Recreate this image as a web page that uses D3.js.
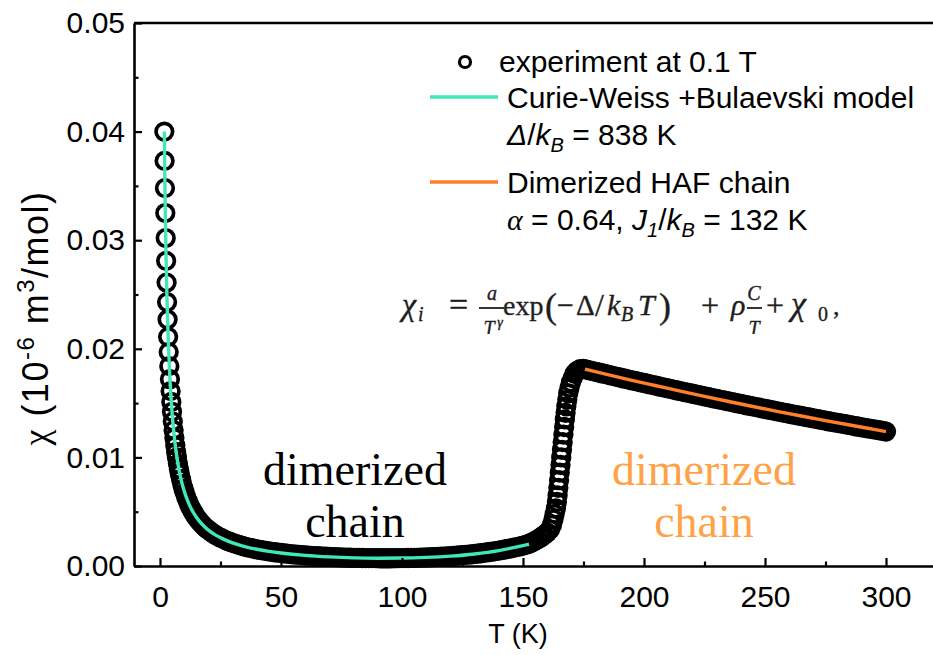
<!DOCTYPE html>
<html>
<head>
<meta charset="utf-8">
<script src="https://cdn.jsdelivr.net/npm/d3@7"></script>
<style>
  body { margin: 0; background: #fff; }
  svg { display: block; }
</style>
</head>
<body>
<svg id="chart" width="933" height="655"></svg>
<script>
// ---- Measured susceptibility, chi (10^-6 m^3/mol) versus T (K) ----
// Curie tail
const tempLow = [1.79, 1.91, 2.05, 2.20, 2.36, 2.54, 2.73, 2.93, 3.13, 3.36, 3.60, 3.85, 4.11, 4.39, 4.68, 4.97, 5.29, 5.63, 5.95, 6.32, 6.67];
const chiLow  = [0.0400, 0.0373, 0.0348, 0.0325, 0.0302, 0.0281, 0.0261, 0.0243, 0.0227, 0.0211, 0.0197, 0.0184, 0.0172, 0.0161, 0.0151, 0.0142, 0.0133, 0.0125, 0.0118, 0.0111, 0.0105];
// knee of the tail
const tempBend = [7.0, 7.4, 7.8, 8.2, 8.7, 9.2, 9.7, 10.2, 10.8, 11.4, 12.0, 12.7, 13.4, 14.1, 14.9, 15.7, 16.5, 17.4, 18.3, 19.2];
const chiBend  = [0.00999, 0.00943, 0.00893, 0.00848, 0.00798, 0.00753, 0.00712, 0.00676, 0.00637, 0.00602, 0.00570, 0.00537, 0.00507, 0.00481, 0.00453, 0.00429, 0.00406, 0.00384, 0.00363, 0.00345];
// low, flat region of the dimerized phase
const tempFlat = [20, 21.25, 22.5, 23.75, 25, 26.25, 27.5, 28.75, 30, 31.25,
  32.5, 33.75, 35, 36.25, 37.5, 38.75, 40, 41.25, 42.5, 43.75,
  45, 46.25, 47.5, 48.75, 50, 51.25, 52.5, 53.75, 55, 56.25,
  57.5, 58.75, 60, 61.25, 62.5, 63.75, 65, 66.25, 67.5, 68.75,
  70, 71.25, 72.5, 73.75, 75, 76.25, 77.5, 78.75, 80, 81.25,
  82.5, 83.75, 85, 86.25, 87.5, 88.75, 90, 91.25, 92.5, 93.75,
  95, 96.25, 97.5, 98.75, 100, 101.25, 102.5, 103.75, 105, 106.25,
  107.5, 108.75, 110, 111.25, 112.5, 113.75, 115, 116.25, 117.5, 118.75,
  120, 121.25, 122.5, 123.75, 125, 126.25, 127.5, 128.75, 130, 131.25,
  132.5, 133.75, 135, 136.25, 137.5, 138.75, 140, 141.25, 142.5, 143.75,
  145, 146.25, 147.5, 148.75, 150, 151.25];
const chiFlat = [0.00332, 0.00311, 0.00292, 0.002755, 0.002604, 0.002468, 0.002344, 0.002231, 0.002128, 0.002033,
  0.001945, 0.001864, 0.00179, 0.00172, 0.001655, 0.001595, 0.001539, 0.001486, 0.001437, 0.00139,
  0.001346, 0.001305, 0.001266, 0.001229, 0.001195, 0.001162, 0.001131, 0.001102, 0.001074, 0.001048,
  0.001023, 0.00100, 0.000978, 0.000957, 0.000936, 0.000917, 0.00090, 0.000883, 0.000867, 0.000852,
  0.000838, 0.000825, 0.000812, 0.00080, 0.00079, 0.000779, 0.00077, 0.000761, 0.000754, 0.000747,
  0.000741, 0.000735, 0.00073, 0.000726, 0.000722, 0.000719, 0.000717, 0.000715, 0.000714, 0.000714,
  0.000715, 0.000716, 0.000718, 0.000722, 0.000726, 0.00073, 0.000735, 0.000742, 0.000749, 0.000757,
  0.000765, 0.000775, 0.000786, 0.000797, 0.000809, 0.000823, 0.000837, 0.000853, 0.00087, 0.000887,
  0.000907, 0.000927, 0.000949, 0.000972, 0.000996, 0.001022, 0.00105, 0.001078, 0.00111, 0.001142,
  0.001175, 0.001211, 0.001249, 0.001288, 0.00133, 0.001374, 0.00142, 0.001468, 0.001518, 0.001572,
  0.001628, 0.001686, 0.001747, 0.001812, 0.00188, 0.00195];
// structural transition
const tempRise = [152.5, 153.75, 155, 156.25, 157.5, 158.75, 160, 161.2, 162.0, 162.6,
  163.1, 163.6, 164.0, 164.3, 164.6, 164.9, 165.2, 165.5, 165.8, 166.1,
  166.4, 166.7, 167.0, 167.3, 167.6, 167.9, 168.3, 168.7, 169.2, 169.8,
  170.5, 171.3, 172.2, 173.6];
const chiRise = [0.00205, 0.00218, 0.00232, 0.00248, 0.00265, 0.00285, 0.00308, 0.00338, 0.0038, 0.0043,
  0.0048, 0.0053, 0.0059, 0.0065, 0.0072, 0.0079, 0.0086, 0.0093, 0.0100, 0.0107,
  0.0114, 0.0121, 0.0128, 0.0135, 0.0141, 0.0147, 0.0153, 0.0159, 0.0164, 0.0169,
  0.0173, 0.0177, 0.01795, 0.01812];
// high-temperature chain regime
const tempHigh = [175, 176.25, 177.5, 178.75, 180, 181.25, 182.5, 183.75, 185, 186.25,
  187.5, 188.75, 190, 191.25, 192.5, 193.75, 195, 196.25, 197.5, 198.75,
  200, 201.25, 202.5, 203.75, 205, 206.25, 207.5, 208.75, 210, 211.25,
  212.5, 213.75, 215, 216.25, 217.5, 218.75, 220, 221.25, 222.5, 223.75,
  225, 226.25, 227.5, 228.75, 230, 231.25, 232.5, 233.75, 235, 236.25,
  237.5, 238.75, 240, 241.25, 242.5, 243.75, 245, 246.25, 247.5, 248.75,
  250, 251.25, 252.5, 253.75, 255, 256.25, 257.5, 258.75, 260, 261.25,
  262.5, 263.75, 265, 266.25, 267.5, 268.75, 270, 271.25, 272.5, 273.75,
  275, 276.25, 277.5, 278.75, 280, 281.25, 282.5, 283.75, 285, 286.25,
  287.5, 288.75, 290, 291.25, 292.5, 293.75, 295, 296.25, 297.5, 298.75, 300];
const chiHigh = [0.01815, 0.01808, 0.01802, 0.01795, 0.01788, 0.01782, 0.01775, 0.01769, 0.01762, 0.01755,
  0.01749, 0.01742, 0.01736, 0.01729, 0.01723, 0.01717, 0.01710, 0.01704, 0.01697, 0.01691,
  0.01685, 0.01678, 0.01672, 0.01666, 0.01660, 0.01653, 0.01647, 0.01641, 0.01635, 0.01629,
  0.01622, 0.01616, 0.01610, 0.01604, 0.01598, 0.01592, 0.01586, 0.01580, 0.01574, 0.01568,
  0.01562, 0.01556, 0.01550, 0.01544, 0.01538, 0.01532, 0.01527, 0.01521, 0.01515, 0.01509,
  0.01503, 0.01498, 0.01492, 0.01486, 0.01480, 0.01475, 0.01469, 0.01463, 0.01458, 0.01452,
  0.01447, 0.01441, 0.01435, 0.01430, 0.01424, 0.01419, 0.01413, 0.01408, 0.01402, 0.01397,
  0.01392, 0.01386, 0.01381, 0.01376, 0.01370, 0.01365, 0.01360, 0.01354, 0.01349, 0.01344,
  0.01339, 0.01333, 0.01328, 0.01323, 0.01318, 0.01313, 0.01308, 0.01303, 0.01298, 0.01292,
  0.01287, 0.01282, 0.01277, 0.01272, 0.01267, 0.01263, 0.01258, 0.01253, 0.01248, 0.01243, 0.01238];

// ---- Fit curves ----
// Curie-Weiss + Bulaevski model
const tempCW = [1.8, 2, 2.25, 2.5, 2.75, 3, 3.5, 4, 4.5, 5, 5.5, 6, 7, 8, 9, 10, 12, 14, 16, 18, 20, 23, 26, 30, 35, 40, 45, 50, 60, 70, 80, 90, 100, 110, 120, 130, 140, 150, 152.5];
const chiCW  = [0.0400, 0.0357, 0.0317, 0.0285, 0.0259, 0.0237, 0.0203, 0.0177, 0.0157, 0.0141, 0.0128, 0.0117, 0.0100, 0.0087, 0.0077, 0.0069, 0.0057, 0.00484, 0.0042, 0.0037, 0.0033, 0.00284, 0.00250, 0.00213, 0.00179, 0.00154, 0.00135, 0.00120, 0.00098, 0.00084, 0.00075, 0.00072, 0.00073, 0.00079, 0.00091, 0.00111, 0.00142, 0.00188, 0.00200];
// Dimerized Heisenberg antiferromagnetic chain
const tempHAF = [175.6, 185, 195, 205, 215, 225, 235, 245, 255, 265, 275, 285, 295, 300];
const chiHAF  = [0.01812, 0.01762, 0.01710, 0.01660, 0.01610, 0.01562, 0.01515, 0.01469, 0.01424, 0.01381, 0.01339, 0.01298, 0.01258, 0.01238];

// ---- Axis ticks ----
const xMajor = [0, 50, 100, 150, 200, 250, 300];
const xMinor = [25, 75, 125, 175, 225, 275];
const yMajor = [0, 0.01, 0.02, 0.03, 0.04, 0.05];
const yMinor = [0.005, 0.015, 0.025, 0.035, 0.045];

// ---- Colours ----
const black = "#000";
const cwColor = "#3FE8B6";
const hafColor = "#FF7F2A";
const labelOrange = "#FFA247";
const eqInk = "#1e1e1e";

const svg = d3.select("#chart");
const sans = "'Liberation Sans', Arial, sans-serif";
const serif = "'Liberation Serif', 'Times New Roman', serif";

const x = d3.scaleLinear().domain([-10.74, 320]).range([134, 934.4]);
const y = d3.scaleLinear().domain([0, 0.05]).range([566, 23]);

const zip = (ts, cs) => ts.map((t, i) => ({ t, c: cs[i] }));
const measured = [].concat(
  zip(tempLow, chiLow), zip(tempBend, chiBend), zip(tempFlat, chiFlat),
  zip(tempRise, chiRise), zip(tempHigh, chiHigh));

// frame top edge
svg.append("line")
  .attr("x1", x.range()[0]).attr("x2", 940)
  .attr("y1", y(0.05)).attr("y2", y(0.05))
  .attr("stroke", black).attr("stroke-width", 2.6);

// data markers
svg.append("g").selectAll("circle").data(measured).join("circle")
  .attr("cx", d => x(d.t)).attr("cy", d => y(d.c))
  .attr("r", 8.3)
  .attr("fill", "none")
  .attr("stroke", black).attr("stroke-width", 3.7);

// fit lines
const lineGen = d3.line().x(d => x(d.t)).y(d => y(d.c)).curve(d3.curveMonotoneX);
svg.append("path").datum(zip(tempCW, chiCW))
  .attr("d", lineGen).attr("fill", "none")
  .attr("stroke", cwColor).attr("stroke-width", 3.4);
svg.append("path").datum(zip(tempHAF, chiHAF))
  .attr("d", lineGen).attr("fill", "none")
  .attr("stroke", hafColor).attr("stroke-width", 3.4);

// axes
function styleAxis(g) {
  g.select(".domain").attr("stroke-width", 2.6);
  g.selectAll(".tick line").attr("stroke-width", 2.2);
  g.selectAll("text").attr("font-family", sans).attr("font-size", 30).attr("fill", black);
}
svg.append("g").attr("transform", `translate(0,${y(0)})`)
  .call(d3.axisBottom(x).tickValues(xMajor).tickSizeInner(-8).tickSizeOuter(0).tickPadding(20).tickFormat(d3.format("d")))
  .call(styleAxis);
svg.append("g").attr("transform", `translate(0,${y(0)})`)
  .call(d3.axisBottom(x).tickValues(xMinor).tickSizeInner(-4.5).tickSizeOuter(0).tickFormat(""))
  .call(g => g.select(".domain").remove())
  .call(g => g.selectAll(".tick line").attr("stroke-width", 2.2));
svg.append("g").attr("transform", `translate(${x.range()[0]},0)`)
  .call(d3.axisLeft(y).tickValues(yMajor).tickSizeInner(-8).tickSizeOuter(0).tickPadding(9).tickFormat(d3.format(".2f")))
  .call(styleAxis);
svg.append("g").attr("transform", `translate(${x.range()[0]},0)`)
  .call(d3.axisLeft(y).tickValues(yMinor).tickSizeInner(-4.5).tickSizeOuter(0).tickFormat(""))
  .call(g => g.select(".domain").remove())
  .call(g => g.selectAll(".tick line").attr("stroke-width", 2.2));

// axis titles
svg.append("text")
  .attr("x", 518).attr("y", 643)
  .attr("text-anchor", "middle")
  .attr("font-family", sans).attr("font-size", 27)
  .text("T (K)");

const yTitle = svg.append("text")
  .attr("transform", "translate(48,318) rotate(-90)")
  .attr("text-anchor", "middle")
  .attr("font-family", sans).attr("font-size", 36)
  .attr("letter-spacing", 1.5);
yTitle.append("tspan").attr("font-family", serif).text("χ");
yTitle.append("tspan").text(" (10");
yTitle.append("tspan").attr("dy", -14).attr("font-size", 24).text("-6");
yTitle.append("tspan").attr("dy", 14).text(" m");
yTitle.append("tspan").attr("dy", -14).attr("font-size", 24).text("3");
yTitle.append("tspan").attr("dy", 14).text("/mol)");

// legend
const lg = svg.append("g").attr("font-family", sans).attr("font-size", 30).attr("fill", black);
lg.append("circle").attr("cx", 465).attr("cy", 62).attr("r", 5.5)
  .attr("fill", "none").attr("stroke", black).attr("stroke-width", 3.2);
lg.append("text").attr("x", 499).attr("y", 72).text("experiment at 0.1 T");
lg.append("line").attr("x1", 430).attr("x2", 498).attr("y1", 97).attr("y2", 97)
  .attr("stroke", cwColor).attr("stroke-width", 3.4);
lg.append("text").attr("x", 507).attr("y", 108).text("Curie-Weiss +Bulaevski model");
const l3 = lg.append("text").attr("x", 507).attr("y", 145);
l3.append("tspan").attr("font-style", "italic").text("Δ");
l3.append("tspan").text("/");
l3.append("tspan").attr("font-style", "italic").text("k");
l3.append("tspan").attr("font-style", "italic").attr("font-size", 20).attr("dy", 7).text("B");
l3.append("tspan").attr("dy", -7).text(" = 838 K");
lg.append("line").attr("x1", 430).attr("x2", 498).attr("y1", 182).attr("y2", 182)
  .attr("stroke", hafColor).attr("stroke-width", 3.4);
lg.append("text").attr("x", 507).attr("y", 193).text("Dimerized HAF chain");
const l5 = lg.append("text").attr("x", 507).attr("y", 230);
l5.append("tspan").attr("font-style", "italic").attr("font-family", serif).text("α");
l5.append("tspan").text(" = 0.64, ");
l5.append("tspan").attr("font-style", "italic").text("J");
l5.append("tspan").attr("font-style", "italic").attr("font-size", 20).attr("dy", 7).text("1");
l5.append("tspan").attr("dy", -7).text("/");
l5.append("tspan").attr("font-style", "italic").text("k");
l5.append("tspan").attr("font-style", "italic").attr("font-size", 20).attr("dy", 7).text("B");
l5.append("tspan").attr("dy", -7).text(" = 132 K");

// model equation
svg.append("defs").append("clipPath").attr("id", "eqClip")
  .append("rect").attr("x", 380).attr("y", 270).attr("width", 500).attr("height", 64);
const eq = svg.append("g").attr("clip-path", "url(#eqClip)")
  .attr("font-family", serif).attr("fill", eqInk)
  .attr("stroke", eqInk).attr("stroke-width", 0.35);
const eqPieces = [
  { s: "χ", x: 402, y: 315, size: 32, it: true },
  { s: "i", x: 418, y: 321, size: 20, it: true },
  { s: "=", x: 449, y: 316, size: 34 },
  { s: "a", x: 492, y: 300, size: 20, it: true, mid: true },
  { s: "T", x: 489, y: 335, size: 20, it: true, mid: true },
  { s: "γ", x: 500, y: 327, size: 14, it: true, mid: true },
  { s: "exp", x: 503, y: 315, size: 28 },
  { s: "(", x: 545, y: 318, size: 36 },
  { s: "−", x: 557, y: 315, size: 30 },
  { s: "Δ", x: 576, y: 315, size: 29 },
  { s: "/", x: 595, y: 316, size: 32 },
  { s: "k", x: 607, y: 315, size: 30, it: true },
  { s: "B", x: 621, y: 321, size: 20, it: true },
  { s: "T", x: 638, y: 315, size: 30, it: true },
  { s: ")", x: 659, y: 318, size: 36 },
  { s: "+", x: 701, y: 316, size: 32 },
  { s: "ρ", x: 731, y: 315, size: 30, it: true },
  { s: "C", x: 754, y: 300, size: 20, it: true, mid: true },
  { s: "T", x: 754, y: 335, size: 20, it: true, mid: true },
  { s: "+", x: 766, y: 316, size: 32 },
  { s: "χ", x: 791, y: 315, size: 34, it: true },
  { s: "0", x: 818, y: 321, size: 20 },
  { s: ",", x: 833, y: 315, size: 26 }
];
eq.selectAll("text").data(eqPieces).join("text")
  .attr("x", d => d.x).attr("y", d => d.y)
  .attr("font-size", d => d.size)
  .attr("font-style", d => d.it ? "italic" : "normal")
  .attr("text-anchor", d => d.mid ? "middle" : "start")
  .text(d => d.s);
eq.append("line").attr("x1", 479).attr("x2", 504).attr("y1", 308).attr("y2", 308)
  .attr("stroke-width", 1.8);
eq.append("line").attr("x1", 747).attr("x2", 762).attr("y1", 308).attr("y2", 308)
  .attr("stroke-width", 1.8);

// region annotations
const notes = [
  { s: "dimerized", x: 355, y: 485, c: black },
  { s: "chain", x: 355, y: 537, c: black },
  { s: "dimerized", x: 704, y: 485, c: labelOrange },
  { s: "chain", x: 704, y: 537, c: labelOrange }
];
svg.append("g").selectAll("text").data(notes).join("text")
  .attr("x", d => d.x).attr("y", d => d.y)
  .attr("text-anchor", "middle")
  .attr("font-family", serif).attr("font-size", 46)
  .attr("fill", d => d.c)
  .text(d => d.s);
</script>
</body>
</html>
